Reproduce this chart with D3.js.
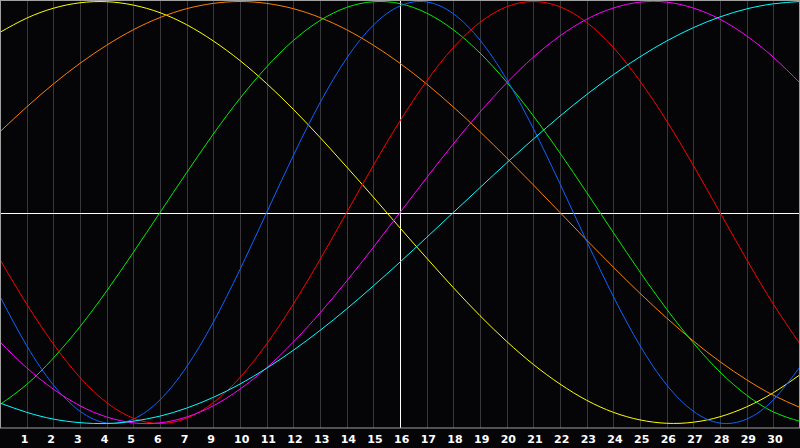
<!DOCTYPE html>
<html>
<head>
<meta charset="utf-8">
<title>Biorhythm</title>
<script src="https://cdnjs.cloudflare.com/ajax/libs/d3/7.8.5/d3.min.js"></script>
<style>
	html, body { margin: 0; padding: 0; background: #050508; }
	svg { display: block; }
</style>
</head>
<body>
<div id="chart"></div>
<script>

	// day index 0..30 along the x axis
	var days = d3.range(0, 31);

	// labels under grid lines 1..29 (the picture skips 8)
	var tick_labels = ["1","2","3","4","5","6","7","9","10","11","12","13","14","15","16",
		"17","18","19","20","21","22","23","24","25","26","27","28","29","30"];

	// values, -100..100, one per day
	var physical = [-39.8,-63.1,-81.7,-94.2,-99.8,-97.9,-88.8,-73.1,-52.0,-27.0,0,27.0,52.0,73.1,88.8,97.9,99.8,94.2,81.7,63.1,39.8,13.6,-13.6,-39.8,-63.1,-81.7,-94.2,-99.8,-97.9,-88.8,-73.1];
	var emotional = [-22.3,-43.4,-62.3,-78.2,-90.1,-97.5,-100,-97.5,-90.1,-78.2,-62.3,-43.4,-22.3,0,22.3,43.4,62.3,78.2,90.1,97.5,100,97.5,90.1,78.2,62.3,43.4,22.3,0,-22.3,-43.4,-62.3];
	var intellectual = [-91.0,-81.5,-69.0,-54.1,-37.2,-18.9,0,18.9,37.2,54.1,69.0,81.5,91.0,97.2,99.9,99.0,94.5,86.6,75.6,61.8,45.8,28.2,9.5,-9.5,-28.2,-45.8,-61.8,-75.6,-86.6,-94.5,-99.0];
	var intuitive = [-61.4,-73.6,-83.7,-91.6,-96.9,-99.7,-99.7,-96.9,-91.6,-83.7,-73.6,-61.4,-47.6,-32.5,-16.5,0,16.5,32.5,47.6,61.4,73.6,83.7,91.6,96.9,99.7,99.7,96.9,91.6,83.7,73.6,61.4];
	var aesthetic = [85.4,92.1,96.8,99.4,99.9,98.3,94.7,89.0,81.3,72.0,61.1,48.9,35.6,21.6,7.3,-7.3,-21.6,-35.6,-48.9,-61.1,-72.0,-81.3,-89.0,-94.7,-98.3,-99.9,-99.4,-96.8,-92.1,-85.4,-76.9];
	var awareness = [38.3,50.0,60.9,70.7,79.3,86.6,92.4,96.6,99.1,100,99.1,96.6,92.4,86.6,79.3,70.7,60.9,50.0,38.3,25.9,13.1,0,-13.1,-25.9,-38.3,-50.0,-60.9,-70.7,-79.3,-86.6,-92.4];
	var spiritual = [-90.3,-94.7,-97.9,-99.6,-100,-98.9,-96.5,-92.7,-87.6,-81.3,-73.8,-65.3,-55.9,-45.7,-34.8,-23.5,-11.8,0,11.8,23.5,34.8,45.7,55.9,65.3,73.8,81.3,87.6,92.7,96.5,98.9,100];

	var series_names = ["aesthetic", "awareness", "intellectual", "physical", "emotional", "intuitive", "spiritual"];
	var series_values = [aesthetic, awareness, intellectual, physical, emotional, intuitive, spiritual];
	var series_colors = ["#ffff00", "#ff8000", "#00ee00", "#0a64ff", "#ff0000", "#ff00ff", "#00ffff"];

	var w = 800, h = 448;
	var plot_bottom = 428;

	var svg = d3.select("#chart").append("svg")
		.attr("width", w)
		.attr("height", h);

	svg.append("rect")
		.attr("width", w)
		.attr("height", h)
		.attr("fill", "#050508");

	var x = d3.scaleLinear().domain([0, 30]).range([0, 800]);
	var y = d3.scaleLinear().domain([-100, 100]).range([423.5, 1.5]);

	// grey day lines
	svg.append("g")
		.selectAll("line")
		.data(d3.range(1, 30))
		.enter()
		.append("line")
		.attr("x1", function(d) { return Math.round(x(d)) + 0.5; })
		.attr("x2", function(d) { return Math.round(x(d)) + 0.5; })
		.attr("y1", 0)
		.attr("y2", plot_bottom)
		.attr("stroke", "#38383c")
		.attr("stroke-width", 1);

	// white centre cross
	svg.append("line")
		.attr("x1", 0).attr("x2", w)
		.attr("y1", Math.round(y(0)) + 0.5).attr("y2", Math.round(y(0)) + 0.5)
		.attr("stroke", "#ffffff");
	svg.append("line")
		.attr("x1", x(15) + 0.5).attr("x2", x(15) + 0.5)
		.attr("y1", 0).attr("y2", plot_bottom)
		.attr("stroke", "#ffffff");

	// curves
	var line = d3.line()
		.x(function(d, i) { return x(days[i]); })
		.y(function(d) { return y(d); })
		.curve(d3.curveNatural);

	svg.append("g")
		.selectAll("path")
		.data(series_values)
		.enter()
		.append("path")
		.attr("class", function(d, i) { return "bio " + series_names[i]; })
		.attr("d", line)
		.attr("fill", "none")
		.attr("stroke", function(d, i) { return series_colors[i]; })
		.attr("stroke-width", 1);

	// border
	svg.append("rect")
		.attr("x", 0.5)
		.attr("y", 0.5)
		.attr("width", w - 1)
		.attr("height", plot_bottom - 0.5)
		.attr("fill", "none")
		.attr("stroke", "#a0a0a0");

	// day labels
	svg.append("g")
		.selectAll("text")
		.data(tick_labels)
		.enter()
		.append("text")
		.attr("x", function(d, i) { return x(i + 1) - 6; })
		.attr("y", 443)
		.attr("fill", "#ffffff")
		.attr("font-family", "DejaVu Sans")
		.attr("font-weight", "bold")
		.attr("font-size", "11px")
		.text(function(d) { return d; });

</script>
</body>
</html>
